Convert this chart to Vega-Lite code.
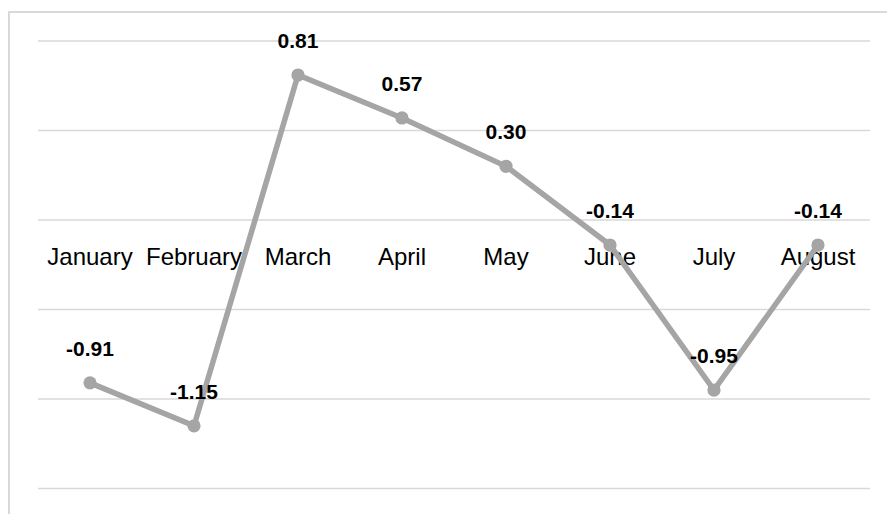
{
  "$schema": "https://vega.github.io/schema/vega-lite/v6.json",
  "autosize": {"type": "none"},
  "padding": {"left": 9, "top": 12, "right": 0, "bottom": 0},
  "width": 890,
  "height": 518,
  "background": "#ffffff",
  "config": {
    "view": {"stroke": "#d9d9d9", "strokeWidth": 2},
    "font": "Liberation Sans",
    "locale": {
      "number": {"decimal": ".", "thousands": ",", "grouping": [3], "currency": ["$", ""], "minus": "-"}
    }
  },
  "datasets": {
    "monthly": [
      {"month": "January", "value": -0.91},
      {"month": "February", "value": -1.15},
      {"month": "March", "value": 0.81},
      {"month": "April", "value": 0.57},
      {"month": "May", "value": 0.30},
      {"month": "June", "value": -0.14},
      {"month": "July", "value": -0.95},
      {"month": "August", "value": -0.14}
    ],
    "gridlines": [
      {"level": 1, "from": "January", "to": "August"},
      {"level": 0.5, "from": "January", "to": "August"},
      {"level": 0, "from": "January", "to": "August"},
      {"level": -0.5, "from": "January", "to": "August"},
      {"level": -1, "from": "January", "to": "August"},
      {"level": -1.5, "from": "January", "to": "August"}
    ]
  },
  "layer": [
    {
      "data": {"name": "gridlines"},
      "mark": {"type": "rule", "color": "#d9d9d9", "strokeWidth": 1.5},
      "encoding": {
        "x": {"field": "from", "type": "nominal", "bandPosition": 0,
              "scale": {"domain": ["January", "February", "March", "April", "May", "June", "July", "August"], "paddingInner": 0, "paddingOuter": 0.279},
              "axis": null},
        "x2": {"field": "to", "bandPosition": 1},
        "y": {"field": "level", "type": "quantitative",
              "scale": {"domain": [-1.732, 1.162], "nice": false, "zero": false},
              "axis": null}
      }
    },
    {
      "data": {"name": "monthly"},
      "mark": {"type": "text", "fontSize": 24, "color": "#000000", "baseline": "alphabetic", "dy": 45},
      "encoding": {
        "x": {"field": "month", "type": "nominal", "sort": null},
        "y": {"datum": 0, "type": "quantitative"},
        "text": {"field": "month"}
      }
    },
    {
      "data": {"name": "monthly"},
      "mark": {"type": "line", "color": "#a5a5a5", "strokeWidth": 5.5,
               "point": {"filled": true, "size": 175, "color": "#a5a5a5", "opacity": 1}},
      "encoding": {
        "x": {"field": "month", "type": "nominal", "sort": null},
        "y": {"field": "value", "type": "quantitative"}
      }
    },
    {
      "data": {"name": "monthly"},
      "mark": {"type": "text", "fontSize": 21, "fontWeight": "bold", "color": "#000000", "baseline": "alphabetic", "dy": -27},
      "encoding": {
        "x": {"field": "month", "type": "nominal", "sort": null},
        "y": {"field": "value", "type": "quantitative"},
        "text": {"field": "value", "type": "quantitative", "format": ".2f"}
      }
    }
  ]
}
